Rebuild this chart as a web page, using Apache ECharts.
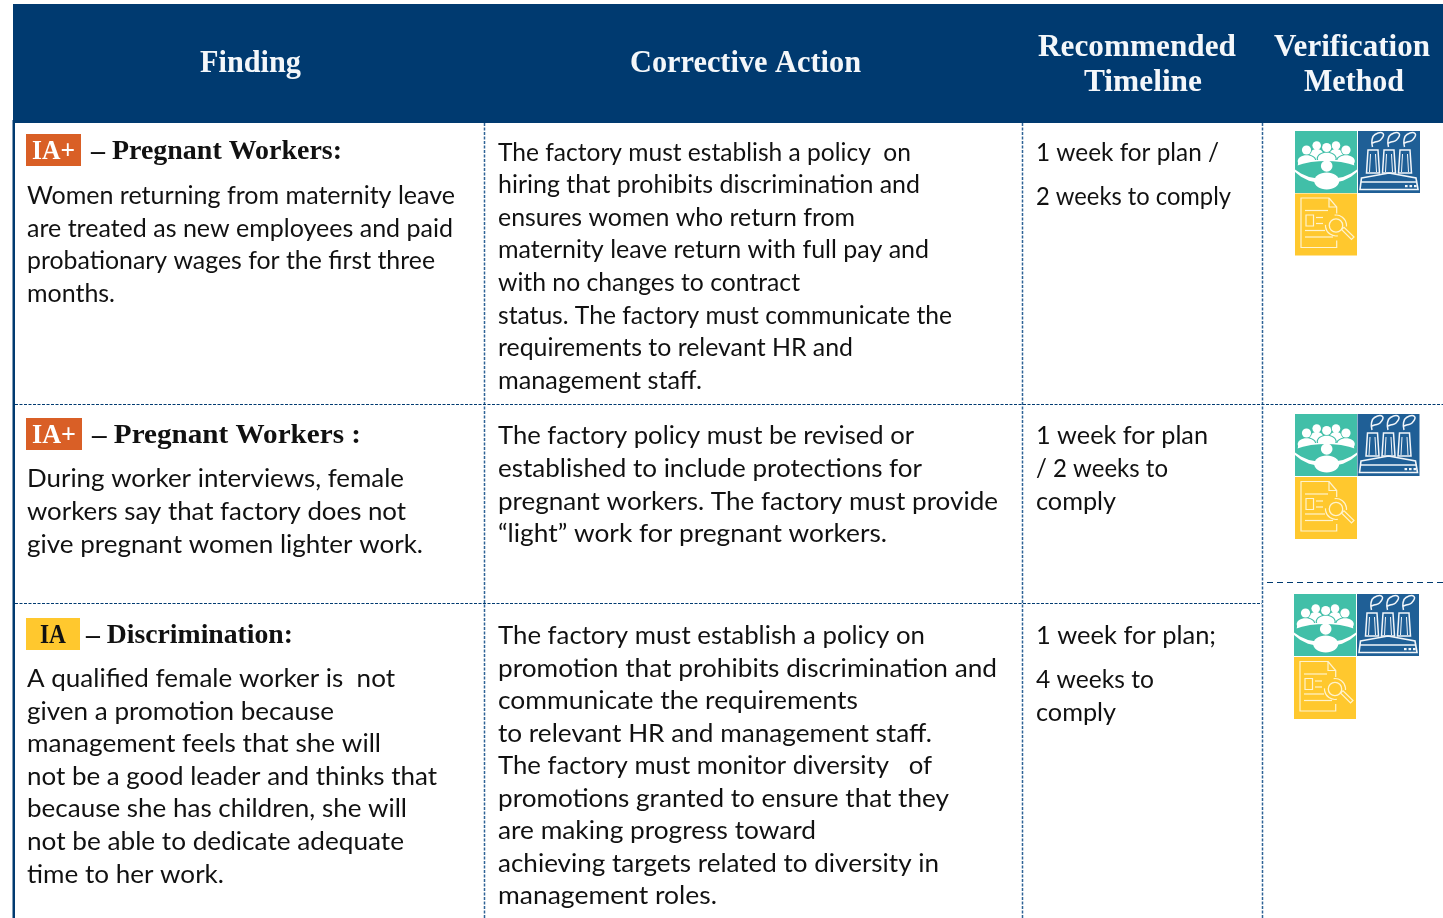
<!DOCTYPE html>
<html><head><meta charset="utf-8">
<script src="https://cdn.jsdelivr.net/npm/echarts@6/dist/echarts.min.js"></script>
<style>html,body{margin:0;padding:0;background:#fff}#c{width:1443px;height:918px}</style></head>
<body><div id="c"></div>
<script>
const headerLabels = [["Finding"],["Corrective Action"],["Recommended","Timeline"],["Verification","Method"]];
const badgeLabels = ["IA+","IA+","IA"];
const findingTitles = ["– Pregnant Workers:","– Pregnant Workers :","– Discrimination:"];
const findingBodies = [
 ["Women returning from maternity leave","are treated as new employees and paid","probationary wages for the first three","months."],
 ["During worker interviews, female","workers say that factory does not","give pregnant women lighter work."],
 ["A qualified female worker is  not","given a promotion because","management feels that she will","not be a good leader and thinks that","because she has children, she will","not be able to dedicate adequate","time to her work."]
];
const actions = [
 ["The factory must establish a policy  on","hiring that prohibits discrimination and","ensures women who return from","maternity leave return with full pay and","with no changes to contract","status. The factory must communicate the","requirements to relevant HR and","management staff."],
 ["The factory policy must be revised or","established to include protections for","pregnant workers. The factory must provide","“light” work for pregnant workers."],
 ["The factory must establish a policy on","promotion that prohibits discrimination and","communicate the requirements","to relevant HR and management staff.","The factory must monitor diversity   of","promotions granted to ensure that they","are making progress toward","achieving targets related to diversity in","management roles."]
];
const timelines = [
 ["1 week for plan /","2 weeks to comply"],
 ["1 week for plan","/ 2 weeks to","comply"],
 ["1 week for plan;","4 weeks to","comply"]
];

const NAVY="#003A70", ORANGE="#D95F26", YELLOW="#FFC82E", TEAL="#41BFA8", BLUE="#1F5F96", INK="#111111";
const BODY='Lato', HEAD='"Liberation Serif"';
const BODYSIZE=25.2, HEADSIZE=31, TITLESIZE=28;

const g=[];
const mctx=document.createElement('canvas').getContext('2d');
function rect(x,y,w,h,fill,z){g.push({type:'rect',shape:{x,y,width:w,height:h},style:{fill},z:z||1,silent:true});}
function line(x1,y1,x2,y2,color,w,dash){g.push({type:'line',shape:{x1,y1,x2,y2},style:{stroke:color,lineWidth:w,lineDash:dash||null},z:2,silent:true});}
// text fitted between a left edge x and a right edge as seen in the picture
function text(s,x,right,y,font,size,weight,fill){
 const f=`${weight} ${size}px ${font}`; mctx.font=f;
 const k=(right-x)/mctx.measureText(s).width;
 g.push({type:'text',x,y,scaleX:k,style:{text:s,font:f,fill,textAlign:'left',textVerticalAlign:'middle'},z:5,silent:true});
}

// header band
rect(13,4,1430,119,NAVY);
const headLeft=[[200],[630],[1038,1084],[1274,1304]], headRight=[[301],[861],[1236,1202],[1430,1404]], headY=[[64],[64],[47.5,82.5],[47.5,82.5]];
headerLabels.forEach((ls,i)=>ls.forEach((s,j)=>text(s,headLeft[i][j],headRight[i][j],headY[i][j],HEAD,HEADSIZE,'bold','#F4F7FA')));

// rules
rect(12.5,120,2.5,798,NAVY);
const DASH=[3,1.5];
[484.5,1022.5,1262.5].forEach(x=>line(x,123,x,918,'#2F6396',1.5,DASH));
line(15,404.5,1443,404.5,NAVY,1.2,DASH);
line(15,603.5,1262,603.5,NAVY,1.2,DASH);
line(1267,582.5,1443,582.5,NAVY,1.2,[6,4]);

// finding column
const badgeBox=[[26,134,55,32],[26,418,56,32],[26,618,54,32]];
const badgeFill=[ORANGE,ORANGE,YELLOW], badgeInk=['#FFFFFF','#FFFFFF','#111111'];
const badgeLeft=[32,32,40], badgeRight=[75,76,66];
const titleLeft=[91,92,86], titleRight=[342,361,293], titleY=[152,436,636];
const findY=[[196,229,261,294],[479,512,545],[679,712,744,777,809,842,875]];
const findRight=[[455,453,435,115],[404,406,423],[395,334,381,437,407,404,224]];
badgeLabels.forEach((b,i)=>{
  const [x,y,w,h]=badgeBox[i];
  rect(x,y,w,h,badgeFill[i]);
  text(b,badgeLeft[i],badgeRight[i],y+h/2+2,HEAD,27,'bold',badgeInk[i]);
  text(findingTitles[i],titleLeft[i],titleRight[i],titleY[i],HEAD,TITLESIZE,'bold',INK);
  findingBodies[i].forEach((s,j)=>text(s,27,findRight[i][j],findY[i][j],BODY,BODYSIZE,'normal',INK));
});
// corrective action
const actY=[[153,185,218,250,283,316,348,381],[436,469,502,534],[636,669,701,734,766,799,831,864,896]];
const actRight=[[911,920,855,929,800,952,853,702],[914,922,998,887],[925,997,858,932,932,949,816,939,717]];
actions.forEach((ls,i)=>ls.forEach((s,j)=>text(s,498,actRight[i][j],actY[i][j],BODY,BODYSIZE,'normal',INK)));
// timeline
const timeY=[[153,197],[436,469,502],[636,680,713]];
const timeRight=[[1219,1231],[1208,1168,1116],[1216,1154,1116]];
timelines.forEach((ls,i)=>ls.forEach((s,j)=>text(s,1036,timeRight[i][j],timeY[i][j],BODY,BODYSIZE,'normal',INK)));

// icons
function teal(){const W='#fff',c=[];
 const C=(cx,cy,r,f)=>c.push({type:'circle',shape:{cx,cy,r},style:{fill:f||W}});
 const E=(cx,cy,rx,ry,f)=>c.push({type:'ellipse',shape:{cx,cy,rx,ry},style:{fill:f||W}});
 c.push({type:'rect',shape:{x:0,y:0,width:62,height:62},style:{fill:TEAL}});
 [[21.7,14.5],[41,14.5]].forEach(p=>{C(p[0],p[1],4.3);E(p[0],24,7,6);});
 [[11.5,19],[31.7,16.5],[51,19]].forEach(p=>{
   E(p[0],p[1]+11,10,6.8,TEAL);C(p[0],p[1],5.4,TEAL);C(p[0],p[1],4.6);E(p[0],p[1]+11,8.8,5.8);});
 c.push({type:'polygon',shape:{points:[[2.5,36],[3.5,29],[58.5,29],[59.5,36]]},style:{fill:W}});
 c.push({type:'polygon',shape:{points:[[0,35.2],[8,32.7],[16,31.1],[24,30.3],[31,30],[38,30.3],[46,31.1],[54,32.7],[62,35.2],[62,62],[0,62]]},style:{fill:TEAL}});
 C(31.7,35,5.8);
 E(31.7,50,12.5,8.5);
 c.push({type:'polygon',shape:{points:[[0,38.5],[6,42.5],[14,46],[24,47.8],[38,47.8],[48,46],[56,42.5],[62,38.5],[62,41],[56,45.8],[48,49.8],[38,52],[31,52.3],[24,52],[14,49.8],[6,45.8],[0,41]]},style:{fill:W}});
 return c;}
function blue(){const W='#F2F6FA',c=[],S={stroke:W,lineWidth:1.5,fill:null};
 c.push({type:'rect',shape:{x:0,y:0,width:62,height:62},style:{fill:BLUE}});
 [0,16,32].forEach(d=>{
  c.push({type:'polygon',shape:{points:[[10+d,19],[20+d,19],[21.5+d,42],[8.5+d,42]]},style:S});
  c.push({type:'line',shape:{x1:12.5+d,y1:23,x2:11.5+d,y2:41},style:{stroke:W,lineWidth:1}});
  c.push({type:'line',shape:{x1:17.5+d,y1:23,x2:18.5+d,y2:41},style:{stroke:W,lineWidth:1}});
  c.push({type:'polyline',shape:{points:[[14.5+d,16],[14+d,9],[17+d,3.5],[25+d,2.5],[22.5+d,9],[17+d,11],[14.5+d,12]],smooth:0.5},style:S});
 });
 c.push({type:'polygon',shape:{points:[[3.5,47],[31,42],[58,47],[60,58.5],[2,58.5]]},style:{stroke:W,lineWidth:1.6,fill:BLUE}});
 c.push({type:'line',shape:{x1:3,y1:51,x2:59,y2:51},style:{stroke:W,lineWidth:1.6}});
 [47,51.5,56].forEach(x=>c.push({type:'rect',shape:{x,y:54,width:2.6,height:2.2},style:{fill:W}}));
 return c;}
function yellow(){const W='#FFF3CF',c=[],S={stroke:W,lineWidth:1.2,fill:null};
 c.push({type:'rect',shape:{x:0,y:0,width:62,height:62},style:{fill:YELLOW}});
 c.push({type:'polyline',shape:{points:[[34,4.5],[6,4.5],[6,54],[41.7,54],[41.7,47]]},style:S});
 c.push({type:'polyline',shape:{points:[[34,4.5],[41.7,13.5],[41.7,20]]},style:S});
 c.push({type:'polyline',shape:{points:[[34,4.5],[34,13.5],[41.7,13.5]]},style:S});
 [[10,17,33,17],[21,24,28,24],[21,30,28,30],[10,37,30,37],[10,43.5,38,43.5]].forEach(l=>c.push({type:'line',shape:{x1:l[0],y1:l[1],x2:l[2],y2:l[3]},style:S}));
 c.push({type:'rect',shape:{x:11,y:21.5,width:7.5,height:11},style:S});
 c.push({type:'circle',shape:{cx:41,cy:32,r:6.7},style:{stroke:W,lineWidth:1.3,fill:YELLOW}});
 c.push({type:'arc',shape:{cx:41,cy:32,r:10.5,startAngle:-1.7,endAngle:0.1},style:S});
 c.push({type:'arc',shape:{cx:41,cy:32,r:10.5,startAngle:1.4,endAngle:3.2},style:S});
 c.push({type:'polygon',shape:{points:[[46.5,36],[49,33.8],[59,43.5],[56.5,46]]},style:S});
 return c;}
const iconOrigin=[[1295,131],[1295,414],[1294,594]];
const iconGap=[[63,62.5],[62.5,63],[63,63]];
iconOrigin.forEach((o,i)=>{
 const [dx,dy]=iconGap[i];
 g.push({type:'group',x:o[0],y:o[1],z:3,silent:true,children:teal()});
 g.push({type:'group',x:o[0]+dx,y:o[1],z:3,silent:true,children:blue()});
 g.push({type:'group',x:o[0],y:o[1]+dy,z:3,silent:true,children:yellow()});
});

const chart=echarts.init(document.getElementById('c'),null,{renderer:'canvas',width:1443,height:918});
chart.setOption({animation:false,backgroundColor:'#fff',graphic:{elements:g}});
</script></body></html>
